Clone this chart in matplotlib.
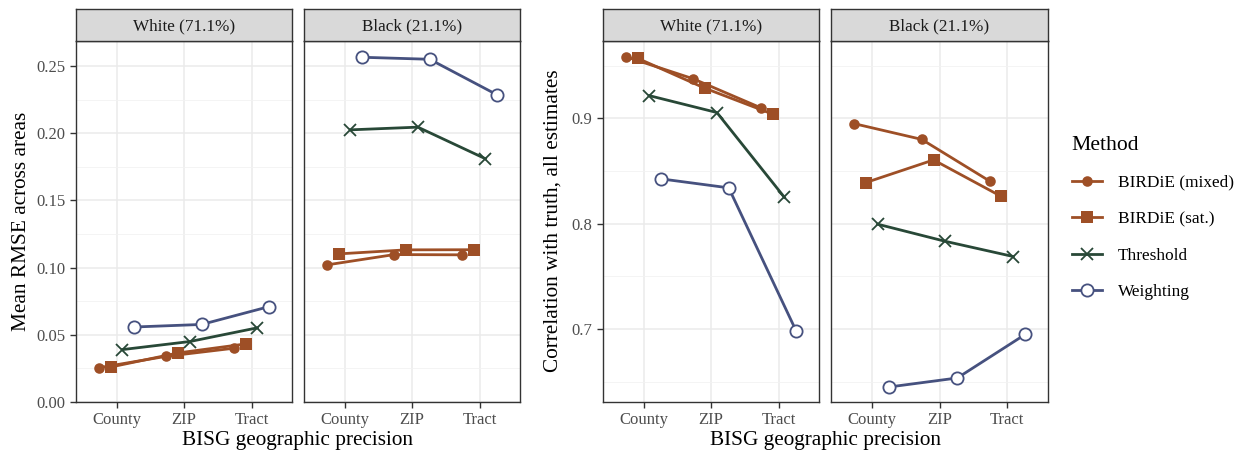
import numpy as np
import matplotlib.pyplot as plt
from matplotlib.lines import Line2D

plt.rcParams['font.family'] = ['Liberation Serif', 'DejaVu Serif']

levels = ['County', 'ZIP', 'Tract']
methods = ['BIRDiE (mixed)', 'BIRDiE (sat.)', 'Threshold', 'Weighting']
facets = ['White (71.1%)', 'Black (21.1%)']

# mean RMSE across areas
rmse_white = {
    'BIRDiE (mixed)': [0.0255, 0.0340, 0.0400],
    'BIRDiE (sat.)': [0.0260, 0.0365, 0.0432],
    'Threshold': [0.0390, 0.0450, 0.0552],
    'Weighting': [0.0558, 0.0577, 0.0710],
}
rmse_black = {
    'BIRDiE (mixed)': [0.1020, 0.1097, 0.1095],
    'BIRDiE (sat.)': [0.1102, 0.1132, 0.1133],
    'Threshold': [0.2025, 0.2045, 0.1810],
    'Weighting': [0.2565, 0.2550, 0.2285],
}
# correlation with truth
corr_white = {
    'BIRDiE (mixed)': [0.9585, 0.9375, 0.9100],
    'BIRDiE (sat.)': [0.9570, 0.9285, 0.9040],
    'Threshold': [0.9215, 0.9055, 0.8250],
    'Weighting': [0.8425, 0.8340, 0.6980],
}
corr_black = {
    'BIRDiE (mixed)': [0.8950, 0.8800, 0.8405],
    'BIRDiE (sat.)': [0.8390, 0.8605, 0.8258],
    'Threshold': [0.7995, 0.7832, 0.7688],
    'Weighting': [0.6450, 0.6535, 0.6948],
}

styles = {
    'BIRDiE (mixed)': dict(color='#9E4F26', marker='o', ms=7.6, mfc='#9E4F26', mew=0),
    'BIRDiE (sat.)': dict(color='#9E4F26', marker='s', ms=8.2, mfc='#9E4F26', mew=0),
    'Threshold': dict(color='#284837', marker='x', ms=9, mfc='none', mew=1.3),
    'Weighting': dict(color='#46517F', marker='o', ms=8.8, mfc='white', mew=1.3),
}
dodge = [-0.2625, -0.0875, 0.0875, 0.2625]

W, H = 1244, 451
fig = plt.figure(figsize=(W / 100, H / 100), dpi=100)


def px_axes(x0, x1, y0, y1):
    return fig.add_axes([x0 / W, 1 - y1 / H, (x1 - x0) / W, (y1 - y0) / H])


def panel(x0, x1, data, title, ylim, majors, minors, show_y, fmt):
    ax = px_axes(x0, x1, 41, 402)
    ax.set_xlim(0.4, 3.6)
    ax.set_ylim(*ylim)
    ax.set_yticks(majors)
    ax.set_yticks(minors, minor=True)
    ax.set_xticks([1, 2, 3])
    ax.set_xticklabels(levels)
    ax.grid(True, which='major', color='#EBEBEB', lw=1.1, zorder=0)
    ax.grid(True, which='minor', axis='y', color='#F2F2F2', lw=0.6, zorder=0)
    ax.set_axisbelow(True)
    for s in ax.spines.values():
        s.set_color('#333333')
        s.set_linewidth(1.0)
    ax.tick_params(which='major', length=4, color='#333333', labelsize=12,
                   labelcolor='#4D4D4D', width=1.0)
    ax.tick_params(which='minor', length=0)
    if show_y:
        ax.set_yticklabels([fmt.format(v) for v in majors])
    else:
        ax.tick_params(axis='y', which='major', length=0, labelleft=False)
    x = np.arange(1, 4)
    for i, m in enumerate(methods):
        ax.plot(x + dodge[i], data[m], lw=2.0, zorder=3, **styles[m])
    st = px_axes(x0, x1, 9, 41)
    st.set_facecolor('#D9D9D9')
    st.set_xticks([])
    st.set_yticks([])
    for s in st.spines.values():
        s.set_color('#333333')
        s.set_linewidth(1.0)
    st.text(0.5, 0.47, title, ha='center', va='center', fontsize=12.3,
            color='#1A1A1A', transform=st.transAxes)
    return ax


rlim = (0.0, 0.2686)
rmaj = [0.0, 0.05, 0.10, 0.15, 0.20, 0.25]
rmin = [0.025, 0.075, 0.125, 0.175, 0.225]
panel(76, 292, rmse_white, facets[0], rlim, rmaj, rmin, True, '{:.2f}')
panel(304, 520, rmse_black, facets[1], rlim, rmaj, rmin, False, '{:.2f}')

clim = (0.6307, 0.9734)
cmaj = [0.7, 0.8, 0.9]
cmin = [0.65, 0.75, 0.85, 0.95]
panel(603, 819, corr_white, facets[0], clim, cmaj, cmin, True, '{:.1f}')
panel(831, 1048, corr_black, facets[1], clim, cmaj, cmin, False, '{:.1f}')

fig.text(22 / W, 1 - 221 / H, 'Mean RMSE across areas', rotation=90,
         ha='center', va='center', fontsize=15.3)
fig.text(553 / W, 1 - 221 / H, 'Correlation with truth, all estimates', rotation=90,
         ha='center', va='center', fontsize=15.3)
fig.text(298 / W, 1 - 440 / H, 'BISG geographic precision', ha='center',
         va='center', fontsize=15.3)
fig.text(825 / W, 1 - 440 / H, 'BISG geographic precision', ha='center',
         va='center', fontsize=15.3)

handles = [Line2D([], [], lw=2.0, **styles[m]) for m in methods]
leg = fig.legend(handles, methods, loc='upper left',
                 bbox_to_anchor=(1056 / W, 1 - 120 / H), frameon=False,
                 title='Method', fontsize=12.4, title_fontsize=15.6,
                 handlelength=1.75, labelspacing=1.18, handletextpad=0.95)
leg._legend_box.align = 'left'

fig.savefig('out.png', dpi=100)
